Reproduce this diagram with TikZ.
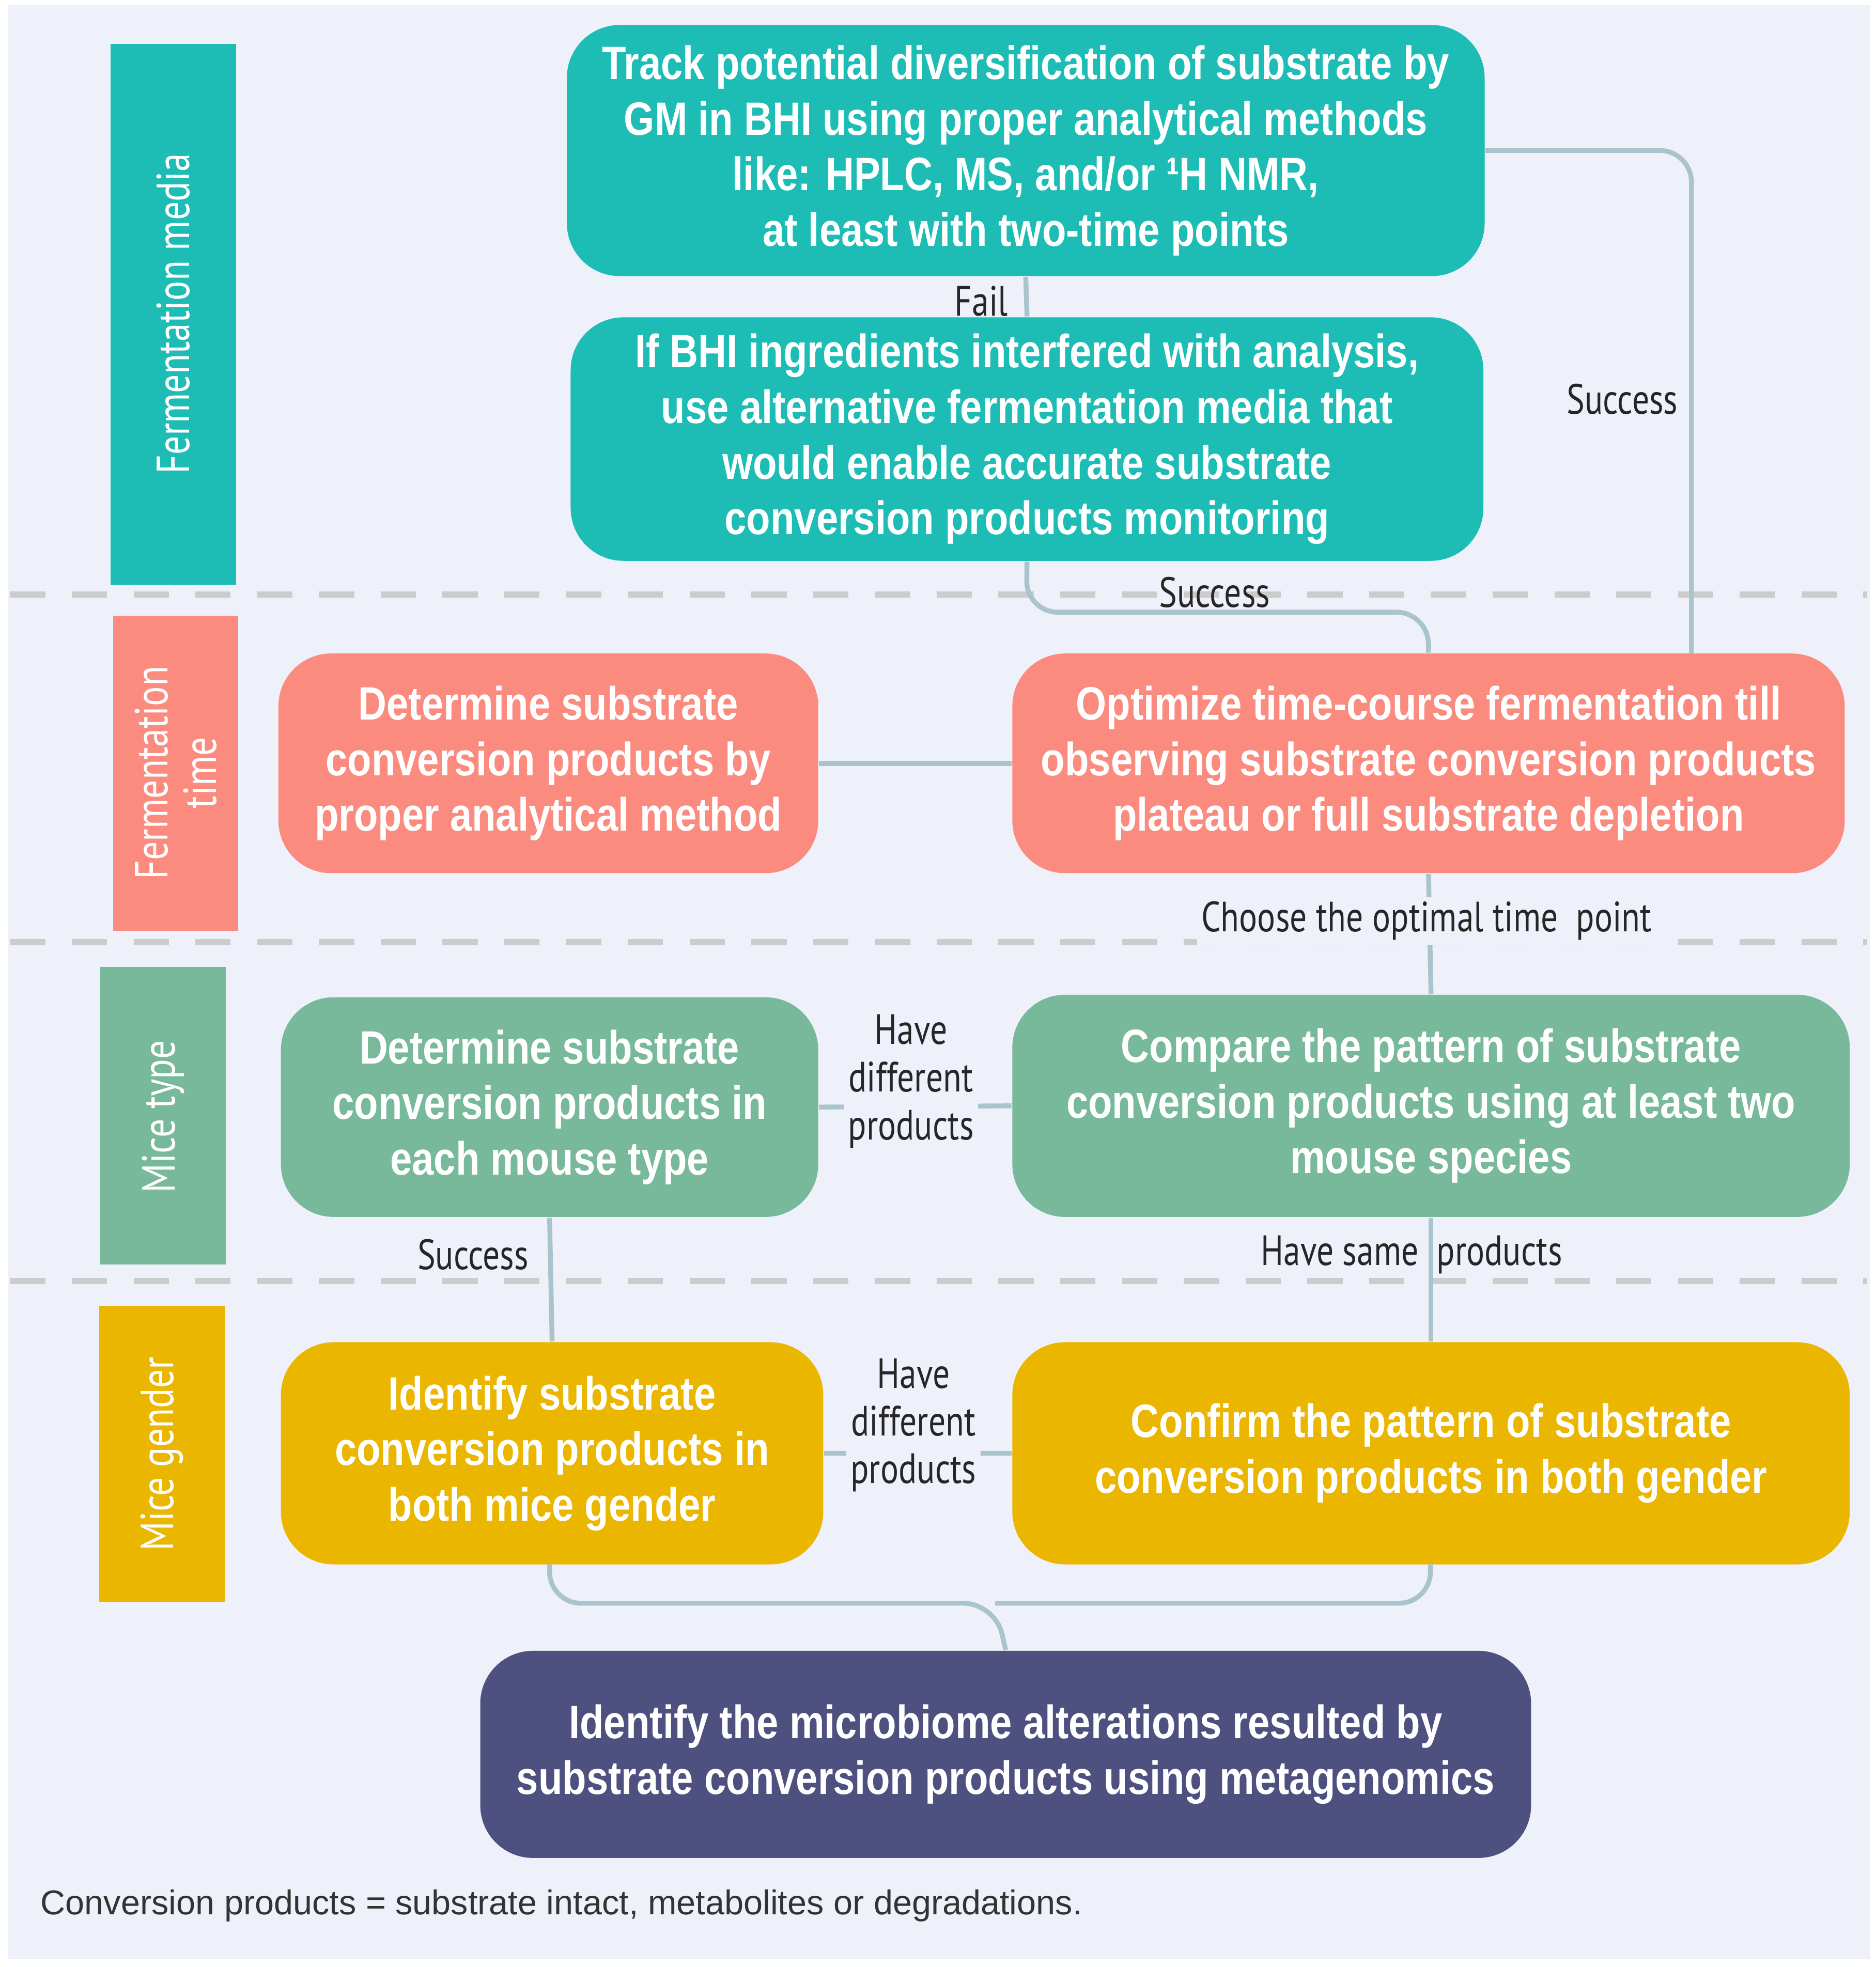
\documentclass[tikz,border=0pt]{standalone}
\usepackage{fontspec}
\setmainfont{Liberation Sans}
\newfontfamily\bx{Liberation Sans}[FakeStretch=0.84]
\newfontfamily\lb{PT Sans}[FakeStretch=0.8]
\begin{document}
\begin{tikzpicture}[x=0.01cm,y=-0.01cm,
 box/.style={draw=none,rounded corners=0.42cm,text=white,align=center,font=\bx\bfseries\fontsize{10.6}{12.6}\selectfont,inner sep=0pt},
 side/.style={text=white,font=\lb\fontsize{10.5}{11}\selectfont,align=center,rotate=90},
 lab/.style={font=\lb\fontsize{9.6}{10.8}\selectfont,align=center,text=black!85},
 con/.style={draw=lineC,line width=1.1pt,rounded corners=0.25cm},
 sepline/.style={draw=black!20,line width=1.4pt,dash pattern=on 8pt off 6pt}]
\definecolor{bg}{HTML}{EEF0FA}
\definecolor{teal}{HTML}{1DBDB6}
\definecolor{salm}{HTML}{FA8B7E}
\definecolor{grn}{HTML}{77B99A}
\definecolor{yel}{HTML}{EAB600}
\definecolor{pur}{HTML}{4E5080}
\definecolor{lineC}{HTML}{A9C4CC}
\useasboundingbox (0,0) rectangle (1495,1568);
\fill[white] (0,0) rectangle (1495,1568);
\fill[bg] (6,4) rectangle (1490,1562);
\foreach \y in {474,751,1021} \draw[sepline] (8,\y) -- (1488,\y);
% side labels
\fill[teal] (88,35) rectangle (188,466); \node[side] (s1) at (138,250) {Fermentation media};
\fill[salm] (90,491) rectangle (190,742); \node[side] (s2) at (140,616) {Fermentation\\time};
\fill[grn] (80,771) rectangle (180,1008); \node[side] (s3) at (130,890) {Mice type};
\fill[yel] (79,1041) rectangle (179,1277); \node[side] (s4) at (129,1159) {Mice gender};
% boxes
\node[box,fill=teal,minimum width=7.31cm,minimum height=2.0cm] (b1) at (817.5,120) {Track potential diversification of substrate by\\GM in BHI using proper analytical methods\\like: HPLC, MS, and/or ¹H NMR,\\at least with two-time points};
\node[box,fill=teal,minimum width=7.27cm,minimum height=1.94cm] (b2) at (818.5,350) {If BHI ingredients interfered with analysis,\\use alternative fermentation media that\\would enable accurate substrate\\conversion products monitoring};
\node[box,fill=salm,minimum width=4.30cm,minimum height=1.75cm] (b3) at (437,608.5) {Determine substrate\\conversion products by\\proper analytical method};
\node[box,fill=salm,minimum width=6.63cm,minimum height=1.75cm] (b4) at (1138.5,608.5) {Optimize time-course fermentation till\\observing substrate conversion products\\plateau or full substrate depletion};
\node[box,fill=grn,minimum width=4.28cm,minimum height=1.75cm] (b5) at (438,882.5) {Determine substrate\\conversion products in\\each mouse type};
\node[box,fill=grn,minimum width=6.67cm,minimum height=1.77cm] (b6) at (1140.5,881.5) {Compare the pattern of substrate\\conversion products using at least two\\mouse species};
\node[box,fill=yel,minimum width=4.32cm,minimum height=1.77cm] (b7) at (440,1158.5) {Identify substrate\\conversion products in\\both mice gender};
\node[box,fill=yel,minimum width=6.67cm,minimum height=1.77cm] (b8) at (1140.5,1158.5) {Confirm the pattern of substrate\\conversion products in both gender};
\node[box,fill=pur,minimum width=8.37cm,minimum height=1.65cm] (b9) at (801.5,1398.5) {Identify the microbiome alterations resulted by\\substrate conversion products using metagenomics};
% connectors
\draw[con] (b1.south) -- (b2.north);
\node[lab] (l1) at (782,240) {Fail};
\draw[con] (b1.east) -- (1348,120) -- (1348,521);
\node[lab] (l2) at (1293,318) {Success};
\draw[con] (b2.south) -- (818,488) -- (1138,488) -- (b4.north);
\node[lab] (l3) at (968,472) {Success};
\draw[con] (b3.east) -- (b4.west);
\draw[con] (b4.south) -- (b6.north);
\node[lab,fill=bg,inner sep=1pt] (l4) at (1137,734) {Choose the optimal time\ \ point};
\draw[con] (b5.east) -- (b6.west);
\node[lab,fill=bg,inner sep=1pt] (l5) at (726,862) {Have\\different\\products};
\draw[con] (b5.south) -- (b7.north);
\node[lab] (l6) at (377,1000) {Success};
\draw[con] (b6.south) -- (b8.north);
\node[lab] (l7) at (1125,1000) {Have same\ \ products};
\draw[con] (b7.east) -- (b8.west);
\node[lab,fill=bg,inner sep=1pt] (l8) at (728,1136) {Have\\different\\products};
\coordinate (m) at (793,1278);
\draw[con] (438,1247) -- (438,1278) -- (m) -- (b9.north);
\draw[con] (1140,1247) -- (1140,1278) -- (m);
\node[anchor=west,font=\fontsize{7.8}{9}\selectfont,text=black!80] (ft) at (20,1519) {Conversion products = substrate intact, metabolites or degradations.};
\end{tikzpicture}
\end{document}
